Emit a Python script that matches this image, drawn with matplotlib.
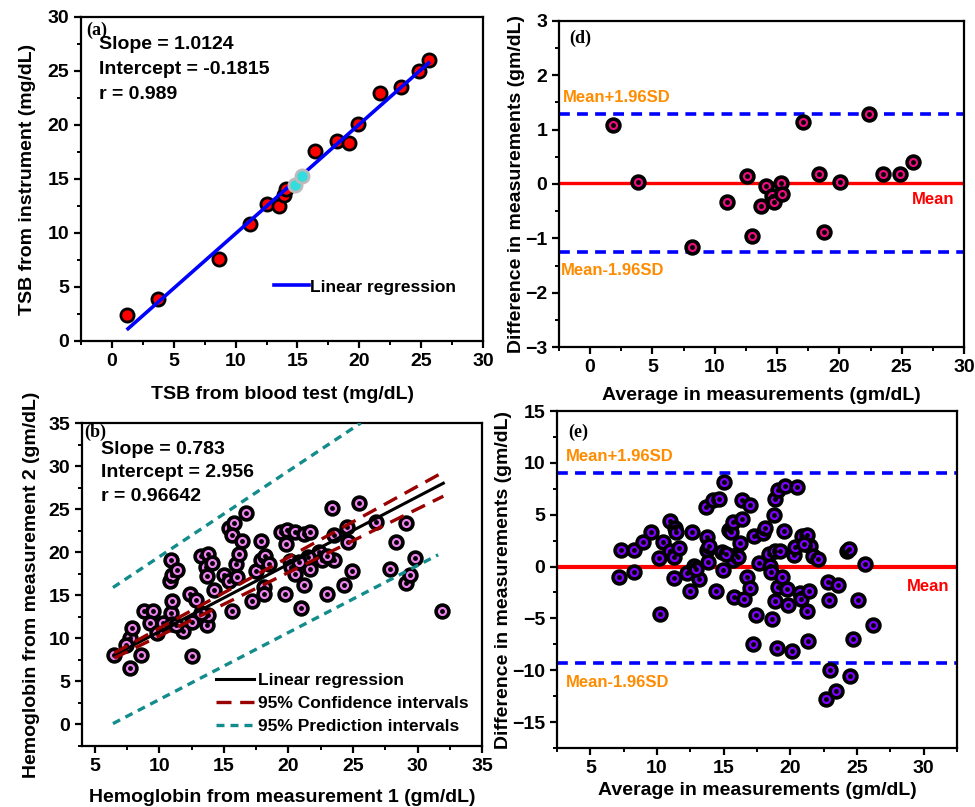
import matplotlib.pyplot as plt
import numpy as np
from matplotlib.ticker import MultipleLocator

plt.rcParams['font.family'] = ['Liberation Sans', 'DejaVu Sans']
plt.rcParams['font.weight'] = 'bold'
plt.rcParams['axes.labelweight'] = 'bold'

# (a) TSB: blood test vs instrument
tsb_blood = [1.2, 3.75, 8.65, 11.2, 12.5, 13.5, 13.9, 14.05, 16.4, 18.2, 19.15, 19.9, 21.65, 23.4, 24.8, 25.6]
tsb_instr = [2.4, 3.85, 7.55, 10.85, 12.65, 12.45, 13.5, 14.1, 17.6, 18.5, 18.3, 20.05, 22.95, 23.55, 24.95, 26.0]
tsb_hl_blood = [14.8, 15.35]
tsb_hl_instr = [14.4, 15.3]
tsb_fit_x = [1.3, 25.6]
tsb_slope = 1.0124
tsb_icept = -0.1815

# (d) Bland-Altman for TSB
d_avg = [1.82, 3.81, 8.18, 10.99, 12.55, 13.0, 13.7, 14.08, 14.6, 14.72, 15.33, 15.4, 17.05,
         18.39, 18.79, 20.03, 22.36, 23.51, 24.9, 25.87]
d_diff = [1.08, 0.04, -1.16, -0.33, 0.15, -0.96, -0.40, -0.03, -0.23, -0.34, 0.01, -0.18, 1.15,
          0.19, -0.88, 0.04, 1.28, 0.18, 0.18, 0.41]
d_mean = 0.01
d_upper = 1.28
d_lower = -1.25

# (b) Hemoglobin measurement 1 vs measurement 2
hb_m1 = [6.5, 7.7, 7.7, 7.4, 7.9, 8.6, 8.8, 9.5, 9.3, 9.8, 10.3, 10.9, 11.0, 10.9, 10.8, 11.0, 11.4,
         11.0, 11.8, 12.4, 12.5, 12.5, 12.8, 13.2, 13.8, 13.6, 13.7, 13.7, 13.8, 14.1, 14.2, 15.0,
         15.4, 15.6, 15.4, 15.8, 15.6, 15.9, 16.2, 16.4, 16.7, 17.2, 17.5, 17.9, 17.9, 18.1, 18.1,
         18.2, 18.5, 19.4, 19.7, 19.8, 19.9, 20.1, 20.2, 20.5, 20.5, 21.0, 21.2, 21.2, 21.7, 21.7,
         22.2, 22.4, 22.6, 23.0, 23.4, 23.5, 23.5, 24.3, 24.5, 24.6, 24.9, 25.5, 26.8, 27.9, 28.3,
         29.1, 29.1, 29.4, 29.8, 31.9, 13.2, 11.3, 16.0, 21.5, 20.8, 23.0]
hb_m2 = [8.1, 6.6, 10.0, 9.2, 11.2, 8.1, 13.2, 13.2, 11.8, 10.6, 11.8, 12.9, 14.3, 19.1, 16.6, 17.3,
         17.9, 11.7, 10.8, 15.2, 11.9, 7.9, 14.5, 19.6, 19.8, 18.3, 17.2, 11.5, 12.7, 18.7, 15.6,
         17.3, 16.6, 13.2, 22.8, 23.4, 22.0, 18.6, 19.8, 21.3, 24.5, 14.3, 17.8, 21.3, 19.1, 16.0,
         15.1, 19.6, 18.6, 22.3, 15.2, 20.9, 22.6, 19.0, 18.3, 17.5, 22.4, 13.5, 16.2, 22.1, 22.4,
         18.0, 19.5, 20.0, 19.1, 15.1, 25.1, 22.0, 19.1, 16.2, 22.9, 21.2, 17.8, 25.7, 23.5, 18.0,
         21.2, 16.4, 23.4, 17.4, 19.3, 13.2, 12.9, 11.6, 17.1, 19.4, 18.9, 19.6]
hb_fit_x = [6.5, 32.0]
hb_slope = 0.783
hb_icept = 2.956
ci_x = [6.5, 32.0]
ci_upper = [8.3, 29.3]
ci_lower = [7.7, 26.5]
pi_upper_x = [6.4, 25.6]
pi_upper = [15.9, 35.0]
pi_lower_x = [6.4, 31.6]
pi_lower = [0.1, 19.7]

# (e) Bland-Altman for hemoglobin
e_avg = [7.31, 7.16, 8.31, 8.26, 8.92, 9.52, 10.12, 10.22, 10.45, 10.97, 11.0, 11.35, 11.4, 11.27,
         11.27, 11.67, 12.23, 12.47, 12.6, 12.8, 13.16, 13.66, 13.73, 13.73, 13.81, 14.16, 14.39,
         14.64, 14.86, 14.94, 14.99, 15.39, 15.54, 15.69, 15.79, 15.89, 15.69, 16.19, 16.34, 16.39,
         16.49, 16.74, 16.94, 16.99, 17.17, 17.29, 17.39, 17.64, 17.94, 18.06, 18.36, 18.49, 18.54,
         18.64, 18.74, 18.84, 18.88, 18.88, 19.01, 19.06, 19.06, 19.36, 19.51, 19.61, 19.78, 19.83,
         20.11, 20.26, 20.38, 20.53, 20.73, 20.78, 20.86, 21.28, 21.36, 21.24, 21.31, 21.48, 21.68,
         22.04, 22.69, 22.79, 22.89, 22.94, 23.4, 23.54, 24.24, 24.36, 24.44, 24.69, 25.05, 25.56,
         26.23, 12.9, 13.9, 15.2, 16.1, 19.2, 21.0]
e_diff = [1.59, -1.01, 1.59, -0.5, 2.40, 3.30, 0.85, -4.61, 2.33, 4.39, 1.5, 3.71, 3.36, 0.92,
          -1.11, 1.82, -0.6, -2.33, 3.30, 0.08, -1.24, 5.77, 2.81, 1.59, 0.47, 6.41, -2.4, 6.48,
          1.43, -0.34, 8.18, 3.52, 3.36, 4.33, -2.91, 1.11, 0.63, 2.23, 6.41, 4.55, -3.10, -0.98,
          5.93, -2.04, -7.51, 2.97, -4.68, 0.31, 3.2, 3.75, 1.21, 0.08, -0.5, -5.06, 4.97, 1.53,
          6.51, -3.36, -7.9, 7.38, -2.01, -0.98, 3.46, 7.77, -2.2, -3.71, -8.13, 1.11, 1.91, 7.71,
          -2.59, -3.17, 2.94, 3.04, -2.4, -4.33, -7.15, 2.01, 1.01, 0.76, -12.78, -1.46, -3.23,
          -9.99, -11.98, -1.78, 1.53, 1.72, -10.59, -6.99, -3.26, 0.24, -5.64, -0.2, 2.0, 1.2,
          0.9, 1.5, 2.2]
e_mean = -0.08
e_upper = 9.05
e_lower = -9.28

fig = plt.figure(figsize=(9.75, 8.07), dpi=100)
ax_a = fig.add_axes([0.0831, 0.5775, 0.4123, 0.4015])
ax_d = fig.add_axes([0.5733, 0.5700, 0.4154, 0.4040])
ax_b = fig.add_axes([0.0841, 0.0756, 0.4103, 0.4002])
ax_e = fig.add_axes([0.5713, 0.0731, 0.4103, 0.4176])


def style_axis(ax, step):
    for sp in ax.spines.values():
        sp.set_linewidth(1.6)
    ax.xaxis.set_major_locator(MultipleLocator(step[0]))
    ax.xaxis.set_minor_locator(MultipleLocator(step[0] / 2))
    ax.yaxis.set_major_locator(MultipleLocator(step[1]))
    ax.yaxis.set_minor_locator(MultipleLocator(step[1] / 2))
    ax.tick_params(which='major', direction='out', length=5, width=1.6, labelsize=14)
    ax.tick_params(which='minor', direction='out', length=3, width=1.4)


def dotted_scatter(ax, x, y, color):
    # filled circle, thick black ring, black dot in the middle
    ax.scatter(x, y, s=85, c=color, edgecolors='black', linewidths=2.6, zorder=3)
    ax.scatter(x, y, s=6, c='black', zorder=4)


serif = ['Liberation Serif', 'DejaVu Serif']

# ---- (a)
ax_a.scatter(tsb_blood, tsb_instr, s=90, c='red', edgecolors='black', linewidths=2.0, zorder=3)
fx = np.array(tsb_fit_x)
ax_a.plot(fx, tsb_slope * fx + tsb_icept, color='blue', lw=2.6, zorder=4, label='Linear regression')
ax_a.scatter(tsb_hl_blood, tsb_hl_instr, s=90, c='#33dddd', edgecolors='#bbbbbb', linewidths=2.0, zorder=5)
ax_a.set_xlim(-2.5, 30)
ax_a.set_ylim(0, 30)
style_axis(ax_a, (5, 5))
ax_a.set_xlabel('TSB from blood test (mg/dL)', fontsize=14, labelpad=12)
ax_a.set_ylabel('TSB from instrument (mg/dL)', fontsize=14, labelpad=8)
ax_a.legend(loc='upper left', bbox_to_anchor=(0.48, 0.19), frameon=False, fontsize=12.5,
            handlelength=2.0, handletextpad=0.1, borderpad=0, borderaxespad=0)
stats_a = ['Slope = 1.0124', 'Intercept = -0.1815', 'r = 0.989']
for i, s in enumerate(stats_a):
    ax_a.text(0.045, 0.915 - i * 0.077, s, transform=ax_a.transAxes, fontsize=14, va='center')
ax_a.text(0.012, 0.96, '(a)', transform=ax_a.transAxes, fontsize=13, family=serif, va='center')

# ---- (d)
ax_d.axhline(d_mean, color='red', lw=2.4, zorder=1)
ax_d.axhline(d_upper, color='blue', lw=2.6, ls=(0, (3, 2)), zorder=1)
ax_d.axhline(d_lower, color='blue', lw=2.6, ls=(0, (3, 2)), zorder=1)
dotted_scatter(ax_d, d_avg, d_diff, '#EC0C80')
ax_d.set_xlim(-2.5, 30)
ax_d.set_ylim(-3, 3)
style_axis(ax_d, (5, 1))
ax_d.set_xlabel('Average in measurements (gm/dL)', fontsize=14, labelpad=8)
ax_d.set_ylabel('Difference in measurements (gm/dL)', fontsize=14, labelpad=0)
ax_d.text(-2.2, 1.59, 'Mean+1.96SD', color='#FF8C00', fontsize=12, va='center')
ax_d.text(-2.36, -1.6, 'Mean-1.96SD', color='#FF8C00', fontsize=12, va='center')
ax_d.text(25.8, -0.28, 'Mean', color='red', fontsize=12, va='center')
ax_d.text(0.025, 0.948, '(d)', transform=ax_d.transAxes, fontsize=13, family=serif, va='center')

# ---- (b)
dotted_scatter(ax_b, hb_m1, hb_m2, '#EE82EE')
hx = np.array(hb_fit_x)
ax_b.plot(hx, hb_slope * hx + hb_icept, color='black', lw=2.2, zorder=5, label='Linear regression')
ax_b.plot(ci_x, ci_upper, color='#990000', lw=2.4, ls=(0, (4.5, 2.6)), zorder=5, label='95% Confidence intervals')
ax_b.plot(ci_x, ci_lower, color='#990000', lw=2.4, ls=(0, (4.5, 2.6)), zorder=5)
ax_b.plot(pi_upper_x, pi_upper, color='#148C8C', lw=2.4, ls=(0, (2.4, 1.8)), zorder=5, label='95% Prediction intervals')
ax_b.plot(pi_lower_x, pi_lower, color='#148C8C', lw=2.4, ls=(0, (2.4, 1.8)), zorder=5)
ax_b.set_xlim(4, 35)
ax_b.set_ylim(-2.5, 35)
style_axis(ax_b, (5, 5))
ax_b.set_xlabel('Hemoglobin from measurement 1 (gm/dL)', fontsize=14, labelpad=10)
ax_b.set_ylabel('Hemoglobin from measurement 2 (gm/dL)', fontsize=14, labelpad=6)
ax_b.legend(loc='upper left', bbox_to_anchor=(0.335, 0.225), frameon=False, fontsize=12.5,
            handlelength=2.2, handletextpad=0.2, borderpad=0, borderaxespad=0, labelspacing=0.45)
stats_b = ['Slope = 0.783', 'Intercept = 2.956', 'r = 0.96642']
for i, s in enumerate(stats_b):
    ax_b.text(0.047, 0.918 - i * 0.072, s, transform=ax_b.transAxes, fontsize=14, va='center')
ax_b.text(0.005, 0.972, '(b)', transform=ax_b.transAxes, fontsize=13, family=serif, va='center')

# ---- (e)
ax_e.axhline(e_mean, color='red', lw=3.0, zorder=1)
ax_e.axhline(e_upper, color='blue', lw=2.6, ls=(0, (3, 2)), zorder=1)
ax_e.axhline(e_lower, color='blue', lw=2.6, ls=(0, (3, 2)), zorder=1)
dotted_scatter(ax_e, e_avg, e_diff, '#8000FF')
ax_e.set_xlim(2.5, 32.5)
ax_e.set_ylim(-17.5, 15)
style_axis(ax_e, (5, 5))
ax_e.set_xlabel('Average in measurements (gm/dL)', fontsize=14, labelpad=4)
ax_e.set_ylabel('Difference in measurements (gm/dL)', fontsize=14, labelpad=0)
ax_e.text(3.14, 10.66, 'Mean+1.96SD', color='#FF8C00', fontsize=12, va='center')
ax_e.text(3.14, -11.2, 'Mean-1.96SD', color='#FF8C00', fontsize=12, va='center')
ax_e.text(28.74, -1.88, 'Mean', color='red', fontsize=12, va='center')
ax_e.text(0.027, 0.938, '(e)', transform=ax_e.transAxes, fontsize=13, family=serif, va='center')

plt.savefig('out.png', dpi=100)
